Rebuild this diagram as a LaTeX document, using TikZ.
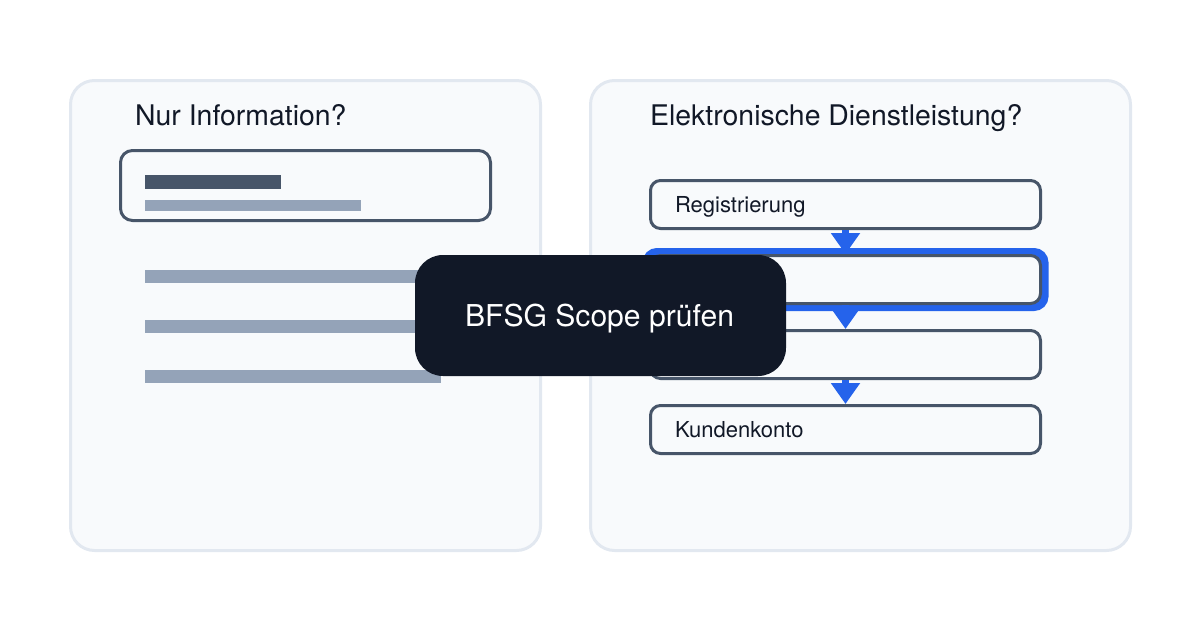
\documentclass[tikz,border=0pt]{standalone}
\usepackage{fontspec}
\setmainfont{TeX Gyre Heros}
\usetikzlibrary{arrows.meta,positioning}
\definecolor{panelfill}{HTML}{F8FAFC}
\definecolor{panelline}{HTML}{E2E8F0}
\definecolor{boxline}{HTML}{475569}
\definecolor{barlight}{HTML}{94A3B8}
\definecolor{flowblue}{HTML}{2563EB}
\definecolor{pilldark}{HTML}{111827}

\begin{document}
\begin{tikzpicture}[x=1pt, y=-1pt, auto]

    \tikzstyle{panel} = [
        rectangle,
        draw=panelline,
        fill=panelfill,
        line width=3pt,
        rounded corners=24pt,
        minimum width=470pt,
        minimum height=470pt,
    ]
    \tikzstyle{titel} = [
        anchor=base west,
        inner sep=0pt,
        text=pilldark,
        font=\fontsize{28.4}{32}\selectfont,
    ]
    \tikzstyle{block} = [
        rectangle,
        draw=boxline,
        fill=panelfill,
        line width=3pt,
        rounded corners=10pt,
        minimum width=390pt,
        minimum height=48pt,
        text width=341pt,
        text height=16pt,
        text depth=1pt,
        inner xsep=24.5pt,
        text=pilldark,
        font=\fontsize{22}{26}\selectfont,
    ]
    \tikzstyle{bar} = [
        rectangle,
        anchor=north west,
        inner sep=0pt,
        fill=barlight,
    ]
    \tikzstyle{line} = [
        draw=flowblue,
        line width=7pt,
        -{Triangle[length=21pt,width=28pt]},
    ]

    \useasboundingbox (0,0) rectangle (1200,630);

    % left side
    \node [panel] (info) at (305.5,315.5) {};
    \node [titel] (infotitel) at (135,125.5) {Nur Information?};
    \node [block, rounded corners=12pt, minimum width=370pt, text width=321pt, minimum height=70pt] (kopf) at (305.5,185.5) {};
    \node [bar, fill=boxline, minimum width=136pt, minimum height=14pt] (kopfa) at (145,175) {};
    \node [bar, minimum width=216pt, minimum height=11pt] (kopfb) at (145,200) {};
    \node [bar, minimum width=296pt, minimum height=13pt] (zeilea) at (145,270) {};
    \node [bar, minimum width=296pt, minimum height=13pt] (zeileb) at (145,320) {};
    \node [bar, minimum width=296pt, minimum height=13pt] (zeilec) at (145,370) {};

    % right side
    \node [panel, minimum width=540pt] (dienst) at (860.5,315.5) {};
    \node [titel] (diensttitel) at (650,125.5) {Elektronische Dienstleistung?};

    \node [rectangle, draw=flowblue, line width=9pt, rounded corners=10pt,
        minimum width=397pt, minimum height=54pt] (mark) at (845.5,279.5) {};

    \node [block] (reg) at (845.5,204.5) {Registrierung};
    \node [block, below=24pt of reg] (zwei) {};
    \node [block, below=24pt of zwei] (drei) {};
    \node [block, below=24pt of drei] (konto) {Kundenkonto};

    \path [line] (reg) -- (zwei);
    \path [line] (zwei) -- (drei);
    \path [line] (drei) -- (konto);

    \node [rectangle, fill=pilldark, text=white, rounded corners=28pt,
        minimum width=371pt, minimum height=121pt,
        text height=21pt, text depth=0pt,
        font=\fontsize{30.1}{36}\selectfont] (scope) at (600.5,315.5) {\hspace{-2pt}BFSG Scope prüfen};

\end{tikzpicture}
\end{document}
